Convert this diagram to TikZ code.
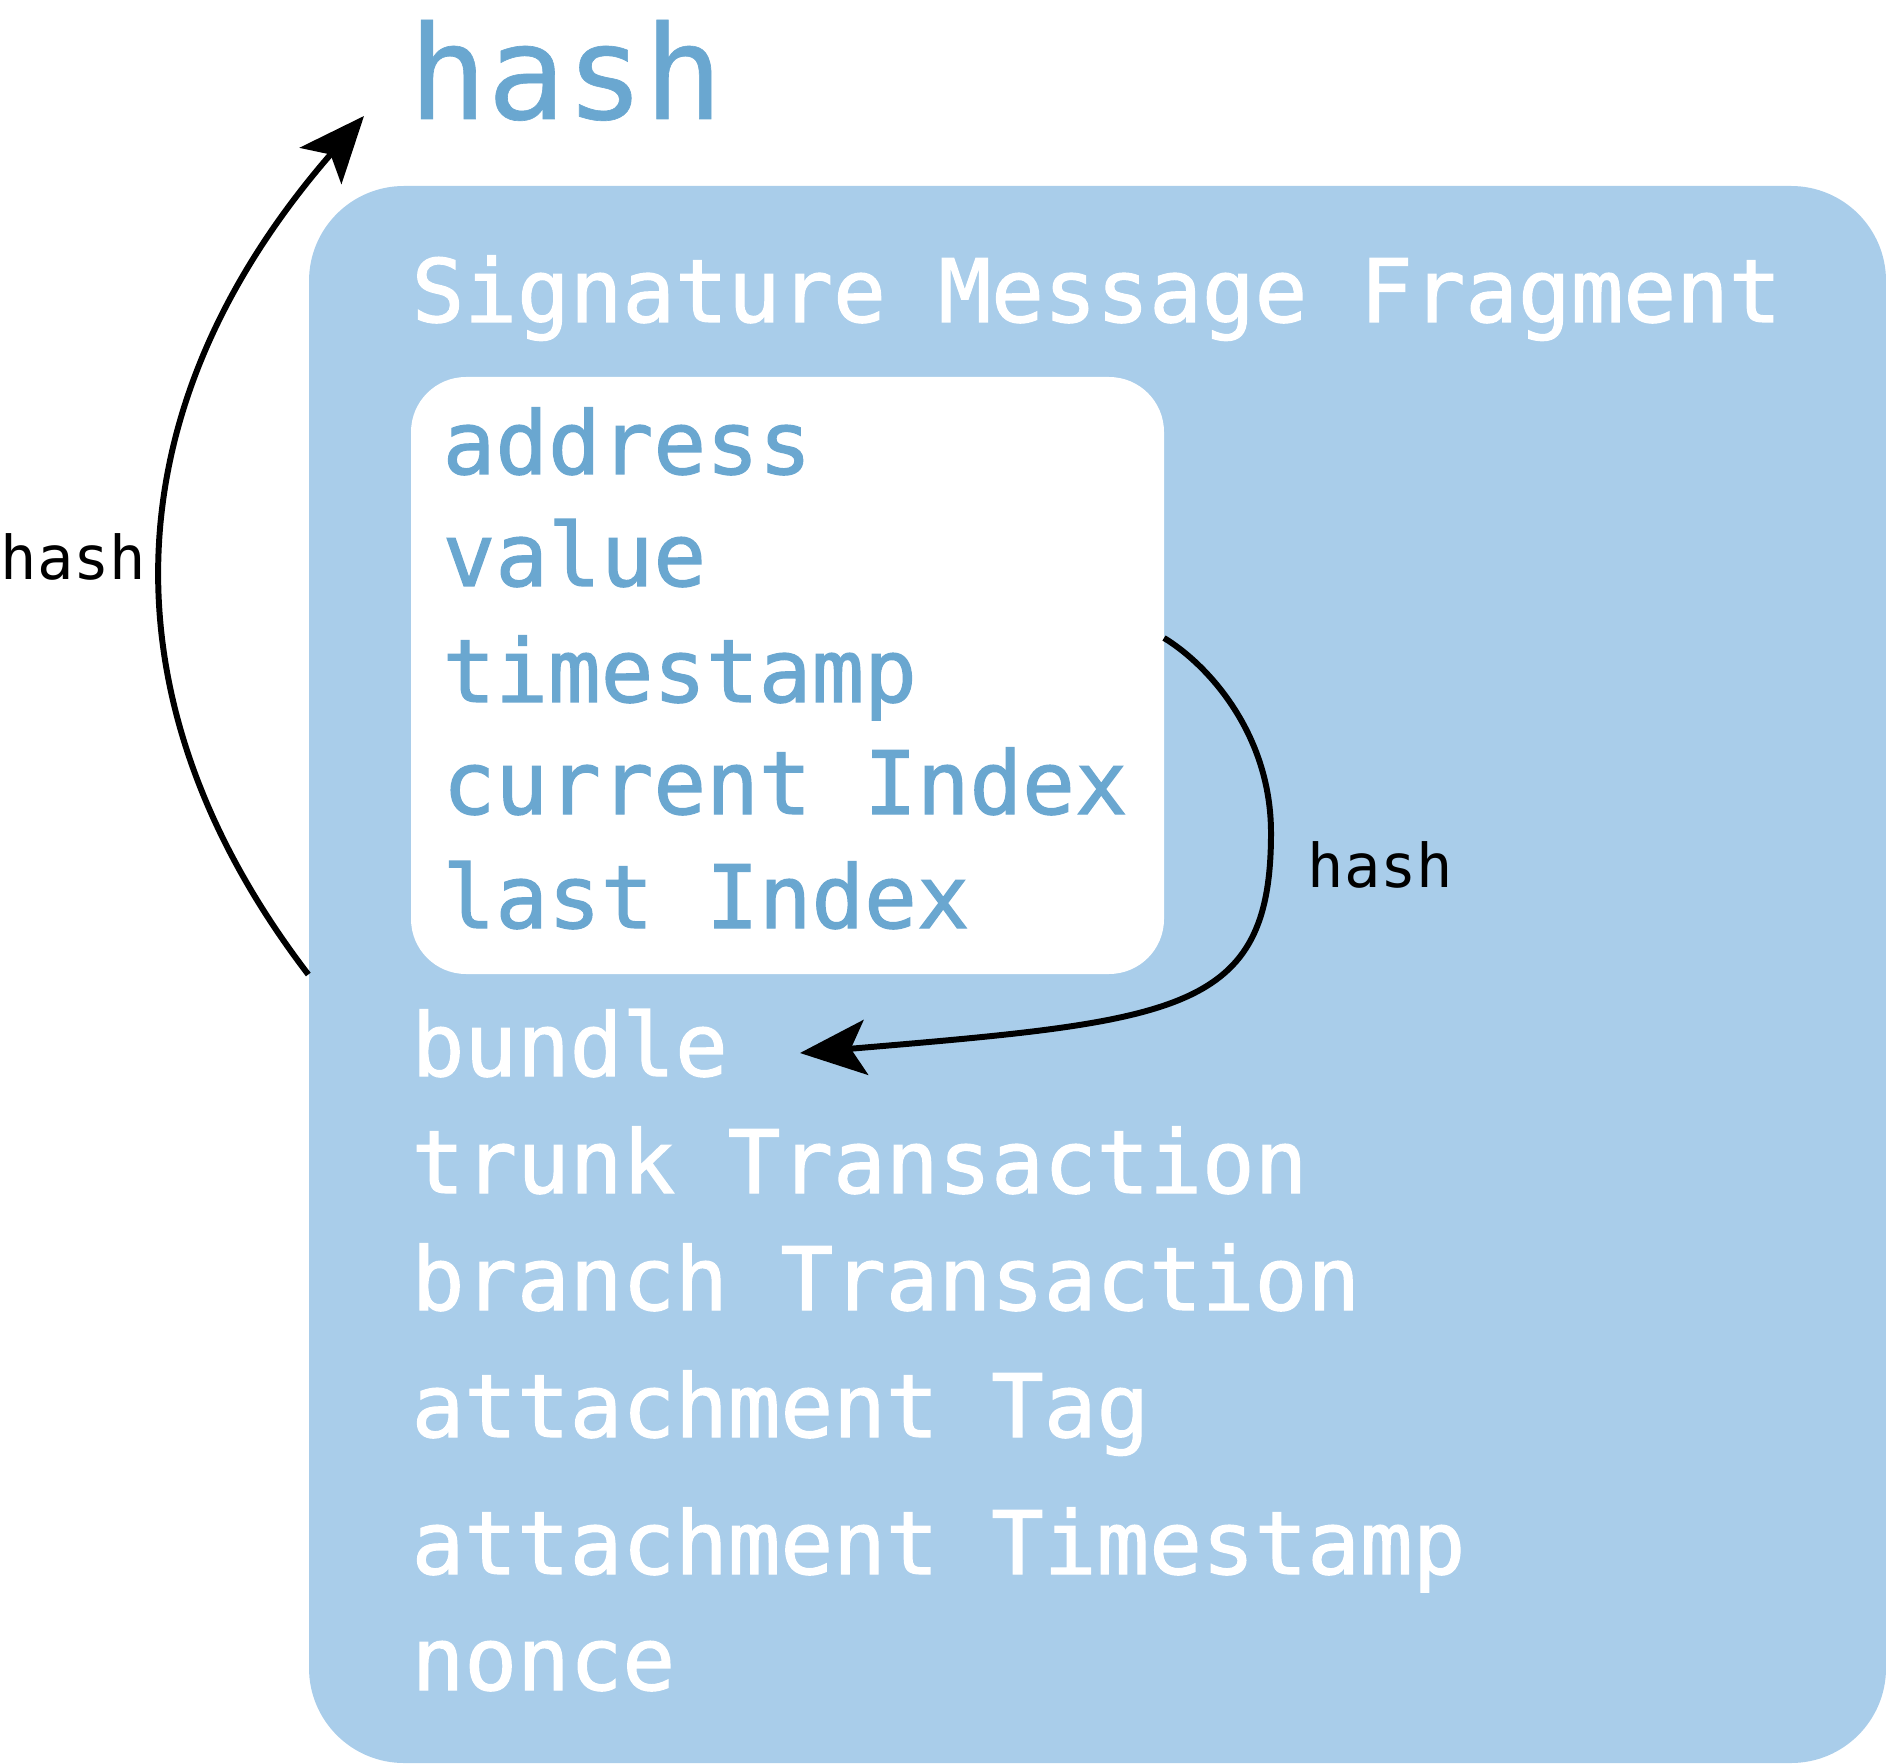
\documentclass[tikz,border=0pt]{standalone}
\usepackage{fontspec}
\setmainfont{DejaVu Sans Mono}
\newfontfamily\fieldfont{DejaVu Sans Mono}[FakeBold=1.3]
\newfontfamily\titlefont{DejaVu Sans Mono}[FakeBold=0.5]
\usetikzlibrary{positioning,arrows.meta}
\definecolor{fragblue}{RGB}{169,205,234}
\definecolor{fieldblue}{RGB}{106,167,208}
\tikzset{
  field/.style={anchor=base west, inner sep=0pt, font=\fieldfont\fontsize{24.9}{30}\selectfont},
  outerfield/.style={field, text=white},
  innerfield/.style={field, text=fieldblue},
  hashlabel/.style={anchor=base west, inner sep=0pt, font=\fontsize{17.2}{20}\selectfont},
  hasharrow/.style={line width=1.7pt, -{Stealth[length=0.66cm, width=0.55cm, inset=0.15cm]}},
}
\begin{document}
\begin{tikzpicture}
    \useasboundingbox (0,0) rectangle (18.86,17.63);
    % transaction box and its essence
    \node[fill=fragblue, rounded corners=0.95cm, minimum width=15.77cm, minimum height=15.77cm, inner sep=0pt] (frag) at (10.975,7.885) {};
    \node[fill=white, rounded corners=0.55cm, minimum width=7.53cm, minimum height=5.97cm, inner sep=0pt] (essence) at (7.875,10.875) {};

    \node[anchor=base west, inner sep=0pt, text=fieldblue, font=\titlefont\fontsize{37.1}{44}\selectfont] (title) at (4.08,16.44) {hash};

    \node[outerfield] (sig) at (4.11,14.41) {Signature Message Fragment};
    \node[innerfield] (addr) at (4.42,12.89) {address};
    \node[innerfield] (val) at (4.42,11.77) {value};
    \node[innerfield] (stamp) at (4.42,10.61) {timestamp};
    \node[innerfield] (cur) at (4.42,9.49) {current Index};
    \node[innerfield] (last) at (4.42,8.35) {last Index};
    \node[outerfield] (bundle) at (4.11,6.87) {bundle};
    \node[outerfield] (trunk) at (4.11,5.70) {trunk Transaction};
    \node[outerfield] (branch) at (4.11,4.53) {branch Transaction};
    \node[outerfield] (tag) at (4.11,3.26) {attachment Tag};
    \node[outerfield] (atstamp) at (4.11,1.89) {attachment Timestamp};
    \node[outerfield] (nonce) at (4.11,0.73) {nonce};

    \coordinate (essout) at (11.64,11.25);
    \coordinate (essmid) at (12.71,9.30);
    \coordinate (bundlein) at (8.00,7.10);
    \coordinate (titlein) at (3.64,16.47);

    \draw[hasharrow] (frag.west) .. controls (0.99,10.62) and (1.10,13.55) .. (titlein);
    \draw[hasharrow] (essout) .. controls (12.07,10.99) and (12.71,10.30) .. (essmid)
        .. controls (12.71,7.50) and (11.79,7.42) .. (bundlein);

    \node[hashlabel] (lefthash) at (0,11.83) {hash};
    \node[hashlabel] (righthash) at (13.07,8.76) {hash};
\end{tikzpicture}
\end{document}
